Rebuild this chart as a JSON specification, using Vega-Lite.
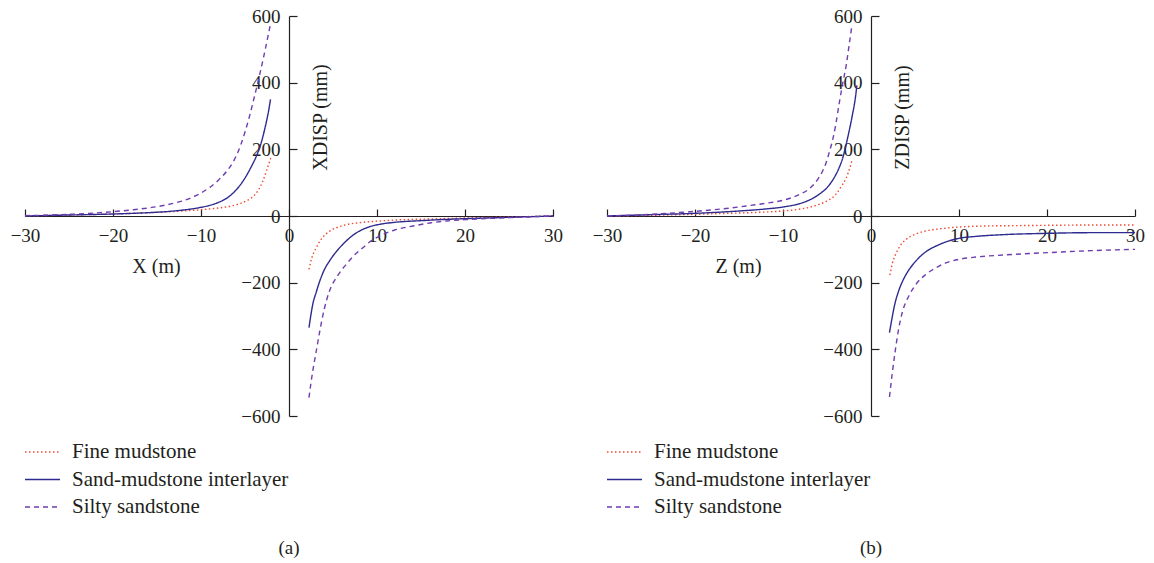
{
"$schema": "https://vega.github.io/schema/vega-lite/v6.json",
"padding": {"left": 10, "top": 7, "right": 5, "bottom": 5},
"background": "white",
"config": {
 "view": {"stroke": null},
 "font": "Liberation Serif",
 "axis": {"labelFont": "Liberation Serif", "labelFontSize": 19, "labelColor": "#231f20", "titleFont": "Liberation Serif", "titleFontSize": 20, "titleFontWeight": "normal", "titleColor": "#231f20", "domainColor": "#231f20", "tickColor": "#231f20", "domainWidth": 1.2, "tickWidth": 1.2, "grid": false, "labelOverlap": false, "labelFlush": false},
 "title": {"font": "Liberation Serif", "fontSize": 19, "fontWeight": "normal", "color": "#231f20", "orient": "bottom", "anchor": "middle", "offset": 21},
 "concat": {"spacing": 29}
},
"datasets": {
 "a": [
  {"m":"Fine mudstone","s":"L","x":-30,"y":0},{"m":"Fine mudstone","s":"L","x":-25,"y":3},{"m":"Fine mudstone","s":"L","x":-20,"y":6},{"m":"Fine mudstone","s":"L","x":-15,"y":11},{"m":"Fine mudstone","s":"L","x":-12,"y":15},{"m":"Fine mudstone","s":"L","x":-10,"y":19},{"m":"Fine mudstone","s":"L","x":-8,"y":24},{"m":"Fine mudstone","s":"L","x":-6.4,"y":31},{"m":"Fine mudstone","s":"L","x":-5.5,"y":38},{"m":"Fine mudstone","s":"L","x":-4.8,"y":46},{"m":"Fine mudstone","s":"L","x":-4.1,"y":58},{"m":"Fine mudstone","s":"L","x":-3.5,"y":77},{"m":"Fine mudstone","s":"L","x":-3,"y":103},{"m":"Fine mudstone","s":"L","x":-2.6,"y":132},{"m":"Fine mudstone","s":"L","x":-2.3,"y":156},{"m":"Fine mudstone","s":"L","x":-2,"y":180},
  {"m":"Fine mudstone","s":"R","x":2.27,"y":-160},{"m":"Fine mudstone","s":"R","x":2.6,"y":-125},{"m":"Fine mudstone","s":"R","x":3.1,"y":-95},{"m":"Fine mudstone","s":"R","x":3.8,"y":-65},{"m":"Fine mudstone","s":"R","x":4.6,"y":-46},{"m":"Fine mudstone","s":"R","x":5.5,"y":-34},{"m":"Fine mudstone","s":"R","x":6.5,"y":-26},{"m":"Fine mudstone","s":"R","x":8,"y":-20},{"m":"Fine mudstone","s":"R","x":10.3,"y":-15},{"m":"Fine mudstone","s":"R","x":13,"y":-11},{"m":"Fine mudstone","s":"R","x":16,"y":-9},{"m":"Fine mudstone","s":"R","x":20,"y":-6},{"m":"Fine mudstone","s":"R","x":25,"y":-3},{"m":"Fine mudstone","s":"R","x":30,"y":0},
  {"m":"Sand-mudstone interlayer","s":"L","x":-30,"y":0},{"m":"Sand-mudstone interlayer","s":"L","x":-25,"y":3},{"m":"Sand-mudstone interlayer","s":"L","x":-20,"y":6},{"m":"Sand-mudstone interlayer","s":"L","x":-16,"y":10},{"m":"Sand-mudstone interlayer","s":"L","x":-14,"y":13},{"m":"Sand-mudstone interlayer","s":"L","x":-12,"y":18},{"m":"Sand-mudstone interlayer","s":"L","x":-10.2,"y":25},{"m":"Sand-mudstone interlayer","s":"L","x":-9,"y":32},{"m":"Sand-mudstone interlayer","s":"L","x":-8,"y":41},{"m":"Sand-mudstone interlayer","s":"L","x":-7.1,"y":53},{"m":"Sand-mudstone interlayer","s":"L","x":-6.3,"y":70},{"m":"Sand-mudstone interlayer","s":"L","x":-5.6,"y":91},{"m":"Sand-mudstone interlayer","s":"L","x":-5,"y":114},{"m":"Sand-mudstone interlayer","s":"L","x":-4.4,"y":142},{"m":"Sand-mudstone interlayer","s":"L","x":-3.7,"y":180},{"m":"Sand-mudstone interlayer","s":"L","x":-3.3,"y":207},{"m":"Sand-mudstone interlayer","s":"L","x":-3,"y":235},{"m":"Sand-mudstone interlayer","s":"L","x":-2.6,"y":279},{"m":"Sand-mudstone interlayer","s":"L","x":-2.3,"y":318},{"m":"Sand-mudstone interlayer","s":"L","x":-2.1,"y":350},
  {"m":"Sand-mudstone interlayer","s":"R","x":2.27,"y":-335},{"m":"Sand-mudstone interlayer","s":"R","x":2.5,"y":-295},{"m":"Sand-mudstone interlayer","s":"R","x":2.7,"y":-265},{"m":"Sand-mudstone interlayer","s":"R","x":3.1,"y":-228},{"m":"Sand-mudstone interlayer","s":"R","x":3.5,"y":-195},{"m":"Sand-mudstone interlayer","s":"R","x":4,"y":-162},{"m":"Sand-mudstone interlayer","s":"R","x":4.6,"y":-135},{"m":"Sand-mudstone interlayer","s":"R","x":5.5,"y":-103},{"m":"Sand-mudstone interlayer","s":"R","x":6.5,"y":-75},{"m":"Sand-mudstone interlayer","s":"R","x":7.4,"y":-55},{"m":"Sand-mudstone interlayer","s":"R","x":8.4,"y":-40},{"m":"Sand-mudstone interlayer","s":"R","x":9.3,"y":-31},{"m":"Sand-mudstone interlayer","s":"R","x":10.3,"y":-25},{"m":"Sand-mudstone interlayer","s":"R","x":12,"y":-19},{"m":"Sand-mudstone interlayer","s":"R","x":15,"y":-14},{"m":"Sand-mudstone interlayer","s":"R","x":18,"y":-10},{"m":"Sand-mudstone interlayer","s":"R","x":20,"y":-8},{"m":"Sand-mudstone interlayer","s":"R","x":25,"y":-4},{"m":"Sand-mudstone interlayer","s":"R","x":30,"y":0},
  {"m":"Silty sandstone","s":"L","x":-30,"y":1},{"m":"Silty sandstone","s":"L","x":-27,"y":3},{"m":"Silty sandstone","s":"L","x":-25,"y":5},{"m":"Silty sandstone","s":"L","x":-22,"y":9},{"m":"Silty sandstone","s":"L","x":-20,"y":13},{"m":"Silty sandstone","s":"L","x":-18,"y":18},{"m":"Silty sandstone","s":"L","x":-16,"y":24},{"m":"Silty sandstone","s":"L","x":-15,"y":28},{"m":"Silty sandstone","s":"L","x":-14,"y":33},{"m":"Silty sandstone","s":"L","x":-13,"y":39},{"m":"Silty sandstone","s":"L","x":-12,"y":46},{"m":"Silty sandstone","s":"L","x":-11,"y":56},{"m":"Silty sandstone","s":"L","x":-10,"y":69},{"m":"Silty sandstone","s":"L","x":-9,"y":86},{"m":"Silty sandstone","s":"L","x":-8,"y":108},{"m":"Silty sandstone","s":"L","x":-7,"y":137},{"m":"Silty sandstone","s":"L","x":-6.4,"y":160},{"m":"Silty sandstone","s":"L","x":-6,"y":180},{"m":"Silty sandstone","s":"L","x":-5.5,"y":212},{"m":"Silty sandstone","s":"L","x":-5,"y":252},{"m":"Silty sandstone","s":"L","x":-4.5,"y":298},{"m":"Silty sandstone","s":"L","x":-4.1,"y":340},{"m":"Silty sandstone","s":"L","x":-3.7,"y":383},{"m":"Silty sandstone","s":"L","x":-3.3,"y":428},{"m":"Silty sandstone","s":"L","x":-2.9,"y":475},{"m":"Silty sandstone","s":"L","x":-2.5,"y":525},{"m":"Silty sandstone","s":"L","x":-2.1,"y":577},
  {"m":"Silty sandstone","s":"R","x":2.27,"y":-545},{"m":"Silty sandstone","s":"R","x":2.5,"y":-500},{"m":"Silty sandstone","s":"R","x":2.7,"y":-465},{"m":"Silty sandstone","s":"R","x":3.1,"y":-405},{"m":"Silty sandstone","s":"R","x":3.5,"y":-345},{"m":"Silty sandstone","s":"R","x":4,"y":-280},{"m":"Silty sandstone","s":"R","x":4.6,"y":-225},{"m":"Silty sandstone","s":"R","x":5.5,"y":-180},{"m":"Silty sandstone","s":"R","x":6.5,"y":-145},{"m":"Silty sandstone","s":"R","x":7.4,"y":-118},{"m":"Silty sandstone","s":"R","x":8.4,"y":-95},{"m":"Silty sandstone","s":"R","x":9.3,"y":-75},{"m":"Silty sandstone","s":"R","x":10.3,"y":-60},{"m":"Silty sandstone","s":"R","x":12,"y":-42},{"m":"Silty sandstone","s":"R","x":14.1,"y":-30},{"m":"Silty sandstone","s":"R","x":16,"y":-21},{"m":"Silty sandstone","s":"R","x":17.9,"y":-15},{"m":"Silty sandstone","s":"R","x":20,"y":-11},{"m":"Silty sandstone","s":"R","x":25,"y":-5},{"m":"Silty sandstone","s":"R","x":30,"y":0}
 ],
 "b": [
  {"m":"Fine mudstone","s":"L","x":-30,"y":0},{"m":"Fine mudstone","s":"L","x":-25,"y":2},{"m":"Fine mudstone","s":"L","x":-20,"y":5},{"m":"Fine mudstone","s":"L","x":-15,"y":9},{"m":"Fine mudstone","s":"L","x":-12,"y":12},{"m":"Fine mudstone","s":"L","x":-10,"y":15},{"m":"Fine mudstone","s":"L","x":-8,"y":21},{"m":"Fine mudstone","s":"L","x":-7,"y":26},{"m":"Fine mudstone","s":"L","x":-5.9,"y":35},{"m":"Fine mudstone","s":"L","x":-5,"y":45},{"m":"Fine mudstone","s":"L","x":-4,"y":65},{"m":"Fine mudstone","s":"L","x":-3.4,"y":88},{"m":"Fine mudstone","s":"L","x":-2.8,"y":115},{"m":"Fine mudstone","s":"L","x":-2.4,"y":145},{"m":"Fine mudstone","s":"L","x":-2.15,"y":167},
  {"m":"Fine mudstone","s":"R","x":2.15,"y":-177},{"m":"Fine mudstone","s":"R","x":2.4,"y":-145},{"m":"Fine mudstone","s":"R","x":2.8,"y":-115},{"m":"Fine mudstone","s":"R","x":3.3,"y":-90},{"m":"Fine mudstone","s":"R","x":4,"y":-70},{"m":"Fine mudstone","s":"R","x":5,"y":-55},{"m":"Fine mudstone","s":"R","x":6.2,"y":-45},{"m":"Fine mudstone","s":"R","x":8,"y":-38},{"m":"Fine mudstone","s":"R","x":10,"y":-33},{"m":"Fine mudstone","s":"R","x":13,"y":-30},{"m":"Fine mudstone","s":"R","x":16,"y":-29},{"m":"Fine mudstone","s":"R","x":20,"y":-28},{"m":"Fine mudstone","s":"R","x":25,"y":-27},{"m":"Fine mudstone","s":"R","x":30,"y":-27},
  {"m":"Sand-mudstone interlayer","s":"L","x":-30,"y":0},{"m":"Sand-mudstone interlayer","s":"L","x":-25,"y":4},{"m":"Sand-mudstone interlayer","s":"L","x":-20,"y":8},{"m":"Sand-mudstone interlayer","s":"L","x":-15,"y":15},{"m":"Sand-mudstone interlayer","s":"L","x":-12,"y":21},{"m":"Sand-mudstone interlayer","s":"L","x":-10,"y":27},{"m":"Sand-mudstone interlayer","s":"L","x":-8,"y":38},{"m":"Sand-mudstone interlayer","s":"L","x":-7,"y":48},{"m":"Sand-mudstone interlayer","s":"L","x":-5.9,"y":65},{"m":"Sand-mudstone interlayer","s":"L","x":-5,"y":85},{"m":"Sand-mudstone interlayer","s":"L","x":-4.3,"y":110},{"m":"Sand-mudstone interlayer","s":"L","x":-3.7,"y":140},{"m":"Sand-mudstone interlayer","s":"L","x":-3.2,"y":175},{"m":"Sand-mudstone interlayer","s":"L","x":-2.65,"y":235},{"m":"Sand-mudstone interlayer","s":"L","x":-2.1,"y":305},{"m":"Sand-mudstone interlayer","s":"L","x":-1.8,"y":350},{"m":"Sand-mudstone interlayer","s":"L","x":-1.6,"y":392},
  {"m":"Sand-mudstone interlayer","s":"R","x":2.1,"y":-350},{"m":"Sand-mudstone interlayer","s":"R","x":2.4,"y":-305},{"m":"Sand-mudstone interlayer","s":"R","x":2.7,"y":-265},{"m":"Sand-mudstone interlayer","s":"R","x":3.1,"y":-228},{"m":"Sand-mudstone interlayer","s":"R","x":3.6,"y":-195},{"m":"Sand-mudstone interlayer","s":"R","x":4.3,"y":-162},{"m":"Sand-mudstone interlayer","s":"R","x":5.1,"y":-135},{"m":"Sand-mudstone interlayer","s":"R","x":6.2,"y":-108},{"m":"Sand-mudstone interlayer","s":"R","x":7.4,"y":-90},{"m":"Sand-mudstone interlayer","s":"R","x":8.6,"y":-77},{"m":"Sand-mudstone interlayer","s":"R","x":10,"y":-67},{"m":"Sand-mudstone interlayer","s":"R","x":12,"y":-61},{"m":"Sand-mudstone interlayer","s":"R","x":15,"y":-56},{"m":"Sand-mudstone interlayer","s":"R","x":20,"y":-52},{"m":"Sand-mudstone interlayer","s":"R","x":25,"y":-50},{"m":"Sand-mudstone interlayer","s":"R","x":30,"y":-50},
  {"m":"Silty sandstone","s":"L","x":-30,"y":0},{"m":"Silty sandstone","s":"L","x":-25,"y":5},{"m":"Silty sandstone","s":"L","x":-20,"y":14},{"m":"Silty sandstone","s":"L","x":-17,"y":21},{"m":"Silty sandstone","s":"L","x":-14.2,"y":30},{"m":"Silty sandstone","s":"L","x":-12,"y":38},{"m":"Silty sandstone","s":"L","x":-10,"y":47},{"m":"Silty sandstone","s":"L","x":-9,"y":55},{"m":"Silty sandstone","s":"L","x":-8,"y":66},{"m":"Silty sandstone","s":"L","x":-7,"y":82},{"m":"Silty sandstone","s":"L","x":-6.6,"y":92},{"m":"Silty sandstone","s":"L","x":-6,"y":112},{"m":"Silty sandstone","s":"L","x":-5.5,"y":135},{"m":"Silty sandstone","s":"L","x":-5.1,"y":160},{"m":"Silty sandstone","s":"L","x":-4.7,"y":195},{"m":"Silty sandstone","s":"L","x":-4.3,"y":235},{"m":"Silty sandstone","s":"L","x":-4,"y":275},{"m":"Silty sandstone","s":"L","x":-3.6,"y":340},{"m":"Silty sandstone","s":"L","x":-3.2,"y":400},{"m":"Silty sandstone","s":"L","x":-2.8,"y":455},{"m":"Silty sandstone","s":"L","x":-2.5,"y":510},{"m":"Silty sandstone","s":"L","x":-2.15,"y":575},
  {"m":"Silty sandstone","s":"R","x":2.1,"y":-543},{"m":"Silty sandstone","s":"R","x":2.4,"y":-475},{"m":"Silty sandstone","s":"R","x":2.7,"y":-415},{"m":"Silty sandstone","s":"R","x":3.1,"y":-345},{"m":"Silty sandstone","s":"R","x":3.6,"y":-285},{"m":"Silty sandstone","s":"R","x":4.3,"y":-240},{"m":"Silty sandstone","s":"R","x":5.1,"y":-205},{"m":"Silty sandstone","s":"R","x":6.2,"y":-176},{"m":"Silty sandstone","s":"R","x":7.4,"y":-155},{"m":"Silty sandstone","s":"R","x":8.6,"y":-140},{"m":"Silty sandstone","s":"R","x":10,"y":-130},{"m":"Silty sandstone","s":"R","x":12,"y":-123},{"m":"Silty sandstone","s":"R","x":15,"y":-117},{"m":"Silty sandstone","s":"R","x":20,"y":-110},{"m":"Silty sandstone","s":"R","x":25,"y":-104},{"m":"Silty sandstone","s":"R","x":30,"y":-100}
 ]
},
"hconcat": [
 {
  "title": {"text": "(a)"},
  "width": 528, "height": 400,
  "data": {"name": "a"},
  "mark": {"type": "line", "strokeWidth": 1.4, "interpolate": "monotone"},
  "encoding": {
   "x": {"field": "x", "type": "quantitative", "scale": {"domain": [-30, 30], "nice": false, "zero": false},
         "axis": {"values": [-30, -20, -10, 0, 10, 20, 30], "offset": -200, "tickSize": -7, "labelPadding": 17, "title": "X (m)", "titleX": 131, "titleY": 56, "titleAlign": "center", "titleBaseline": "alphabetic"}},
   "y": {"field": "y", "type": "quantitative", "scale": {"domain": [-600, 600], "nice": false},
         "axis": {"values": [-600, -400, -200, 0, 200, 400, 600], "offset": -264, "tickSize": -8, "labelPadding": 17, "title": "XDISP (mm)", "titleX": 31, "titleY": 101, "titleAngle": -90, "titleAlign": "center", "titleBaseline": "middle"}},
   "color": {"field": "m", "type": "nominal", "scale": {"domain": ["Fine mudstone", "Sand-mudstone interlayer", "Silty sandstone"], "range": ["#ef4b33", "#2e2b8e", "#6f3db0"]},
             "legend": {"title": null, "orient": "none", "legendX": -1, "legendY": 425, "symbolType": "stroke", "symbolSize": 1225, "symbolStrokeWidth": 1.4, "clipHeight": 22, "rowPadding": 5.5, "labelFont": "Liberation Serif", "labelFontSize": 21, "labelColor": "#231f20", "labelOffset": 11, "padding": 0, "labelLimit": 400}},
   "strokeDash": {"field": "m", "type": "nominal", "scale": {"domain": ["Fine mudstone", "Sand-mudstone interlayer", "Silty sandstone"], "range": [[1.5, 2.5], [1, 0], [5, 4]]},
             "legend": {"title": null, "orient": "none", "legendX": -1, "legendY": 425, "symbolType": "stroke", "symbolSize": 1225, "symbolStrokeWidth": 1.4, "clipHeight": 22, "rowPadding": 5.5, "labelFont": "Liberation Serif", "labelFontSize": 21, "labelColor": "#231f20", "labelOffset": 11, "padding": 0, "labelLimit": 400}},
   "detail": {"field": "s"}
  }
 },
 {
  "title": {"text": "(b)"},
  "width": 528, "height": 400,
  "data": {"name": "b"},
  "mark": {"type": "line", "strokeWidth": 1.4, "interpolate": "monotone"},
  "encoding": {
   "x": {"field": "x", "type": "quantitative", "scale": {"domain": [-30, 30], "nice": false, "zero": false},
         "axis": {"values": [-30, -20, -10, 0, 10, 20, 30], "offset": -200, "tickSize": -7, "labelPadding": 17, "title": "Z (m)", "titleX": 131, "titleY": 56, "titleAlign": "center", "titleBaseline": "alphabetic"}},
   "y": {"field": "y", "type": "quantitative", "scale": {"domain": [-600, 600], "nice": false},
         "axis": {"values": [-600, -400, -200, 0, 200, 400, 600], "offset": -264, "tickSize": -8, "labelPadding": 17, "title": "ZDISP (mm)", "titleX": 31, "titleY": 101, "titleAngle": -90, "titleAlign": "center", "titleBaseline": "middle"}},
   "color": {"field": "m", "type": "nominal", "scale": {"domain": ["Fine mudstone", "Sand-mudstone interlayer", "Silty sandstone"], "range": ["#ef4b33", "#2e2b8e", "#6f3db0"]},
             "legend": {"title": null, "orient": "none", "legendX": -1, "legendY": 425, "symbolType": "stroke", "symbolSize": 1225, "symbolStrokeWidth": 1.4, "clipHeight": 22, "rowPadding": 5.5, "labelFont": "Liberation Serif", "labelFontSize": 21, "labelColor": "#231f20", "labelOffset": 11, "padding": 0, "labelLimit": 400}},
   "strokeDash": {"field": "m", "type": "nominal", "scale": {"domain": ["Fine mudstone", "Sand-mudstone interlayer", "Silty sandstone"], "range": [[1.5, 2.5], [1, 0], [5, 4]]},
             "legend": {"title": null, "orient": "none", "legendX": -1, "legendY": 425, "symbolType": "stroke", "symbolSize": 1225, "symbolStrokeWidth": 1.4, "clipHeight": 22, "rowPadding": 5.5, "labelFont": "Liberation Serif", "labelFontSize": 21, "labelColor": "#231f20", "labelOffset": 11, "padding": 0, "labelLimit": 400}},
   "detail": {"field": "s"}
  }
 }
],
"resolve": {"scale": {"color": "independent", "strokeDash": "independent"}}
}
